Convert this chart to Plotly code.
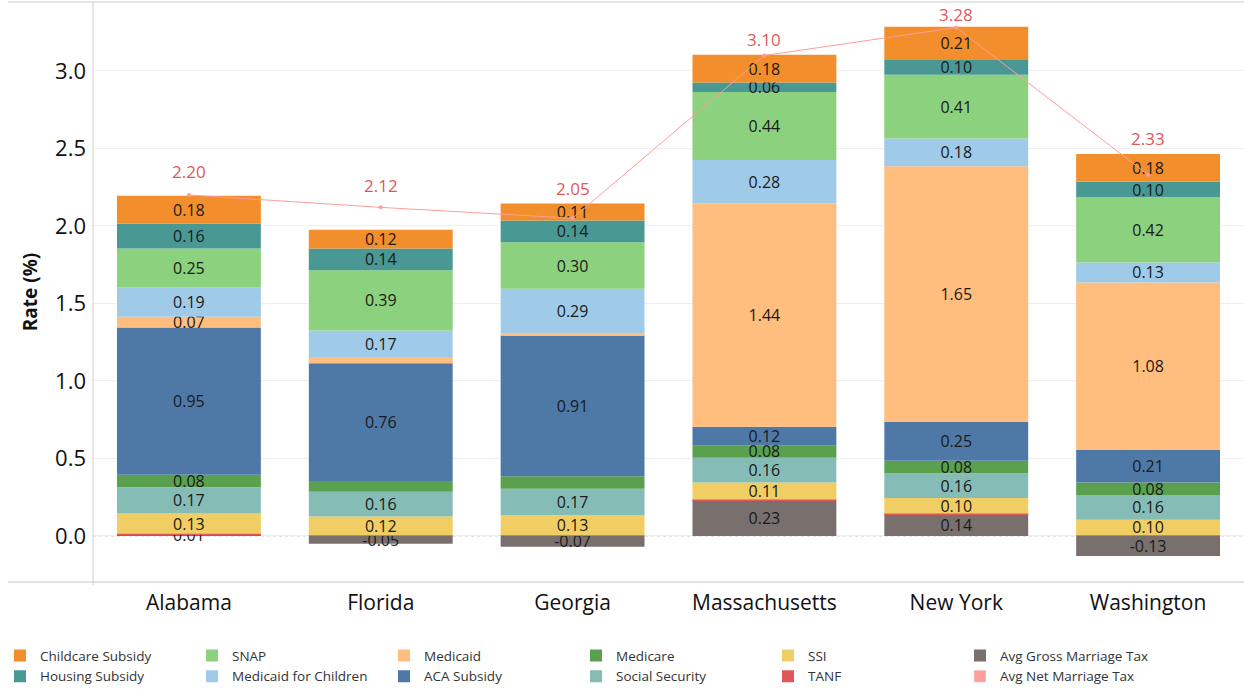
import plotly.graph_objects as go

states = ["Alabama", "Florida", "Georgia", "Massachusetts", "New York", "Washington"]

# benefit components (rate, %), listed bottom of the stack to top
gross_marriage_tax = [0.01, -0.05, -0.07, 0.23, 0.14, -0.13]
tanf = [0.005, 0.005, 0.005, 0.005, 0.005, 0.005]
ssi = [0.13, 0.12, 0.13, 0.11, 0.10, 0.10]
social_security = [0.17, 0.16, 0.17, 0.16, 0.16, 0.16]
medicare = [0.08, 0.07, 0.08, 0.08, 0.08, 0.08]
aca_subsidy = [0.95, 0.76, 0.91, 0.12, 0.25, 0.21]
medicaid = [0.07, 0.04, 0.01, 1.44, 1.65, 1.08]
medicaid_children = [0.19, 0.17, 0.29, 0.28, 0.18, 0.13]
snap = [0.25, 0.39, 0.30, 0.44, 0.41, 0.42]
housing_subsidy = [0.16, 0.14, 0.14, 0.06, 0.10, 0.10]
childcare_subsidy = [0.18, 0.12, 0.11, 0.18, 0.21, 0.18]
net_marriage_tax = [2.20, 2.12, 2.05, 3.10, 3.28, 2.33]

# segments too thin to carry a readable label
hidden_labels = {
    "TANF": [True] * 6,
    "Medicare": [False, True, True, False, False, False],
    "Medicaid": [False, True, True, False, False, False],
}

# vertical offset (px) of each net-tax label above its point
net_label_shift = [23, 22, 30, 16, 13, 36]

series = [
    ("Avg Gross Marriage Tax", gross_marriage_tax, "#79706E", 6),
    ("TANF", tanf, "#E15759", 11),
    ("SSI", ssi, "#F1CE63", 5),
    ("Social Security", social_security, "#86BCB6", 10),
    ("Medicare", medicare, "#59A14F", 4),
    ("ACA Subsidy", aca_subsidy, "#4E79A7", 9),
    ("Medicaid", medicaid, "#FFBE7D", 3),
    ("Medicaid for Children", medicaid_children, "#A0CBE8", 8),
    ("SNAP", snap, "#8CD17D", 2),
    ("Housing Subsidy", housing_subsidy, "#499894", 7),
    ("Childcare Subsidy", childcare_subsidy, "#F28E2B", 1),
]

FONT = "Open Sans"

fig = go.Figure()
for name, vals, color, rank in series:
    hide = hidden_labels.get(name, [False] * len(vals))
    labels = ["" if h else f"{v:.2f}" for v, h in zip(vals, hide)]
    fig.add_trace(go.Bar(
        name=name, x=states, y=vals, marker=dict(color=color, line=dict(width=0)),
        text=labels, textposition="inside", insidetextanchor="middle",
        constraintext="none", textangle=0,
        textfont=dict(family=FONT, size=16, color="#1a1a1a"),
        legendrank=rank,
    ))

# legend swatch for the net marriage tax line
fig.add_trace(go.Bar(name="Avg Net Marriage Tax", x=[states[0]], y=[None],
                     marker=dict(color="#FF9D9A"), legendrank=12))

fig.add_trace(go.Scatter(
    x=states, y=net_marriage_tax, mode="lines+markers",
    line=dict(color="#FF9D9A", width=1), marker=dict(size=4, color="#FF9D9A"),
    showlegend=False, hoverinfo="y",
))

for s, v, dy in zip(states, net_marriage_tax, net_label_shift):
    fig.add_annotation(x=s, y=v, text=f"{v:.2f}", showarrow=False, yshift=dy,
                       font=dict(family=FONT, size=17, color="#E15759"))

# frame lines: top border, category baseline, value axis line, dotted zero line
fig.add_shape(type="line", xref="paper", yref="paper", x0=-0.074, x1=1, y0=1, y1=1,
              line=dict(color="#e6e6e6", width=2))
fig.add_shape(type="line", xref="paper", yref="paper", x0=-0.074, x1=1, y0=0, y1=0,
              line=dict(color="#d9d9d9", width=1.5))
fig.add_shape(type="line", xref="paper", yref="paper", x0=0, x1=0, y0=-0.005, y1=1,
              line=dict(color="#d0d0d0", width=1))
fig.add_shape(type="line", xref="paper", yref="y", x0=0, x1=1, y0=0, y1=0,
              line=dict(color="#c8c8c8", width=1, dash="dot"), layer="below")

fig.update_layout(
    width=1244, height=690,
    margin=dict(l=93, r=0, t=2, b=108, autoexpand=False),
    barmode="relative", bargap=0.25,
    plot_bgcolor="white", paper_bgcolor="white",
    font=dict(family=FONT, color="#222"),
    xaxis=dict(showgrid=False, showline=False, ticks="", automargin=False,
               ticklabelstandoff=6,
               tickfont=dict(family=FONT, size=21, color="#111")),
    yaxis=dict(range=[-0.297, 3.445], tickvals=[0, 0.5, 1.0, 1.5, 2.0, 2.5, 3.0],
               ticktext=["0.0", "0.5", "1.0", "1.5", "2.0", "2.5", "3.0"],
               showgrid=True, gridcolor="#efefef", gridwidth=1,
               zeroline=False, showline=False, ticks="", ticklen=0,
               automargin=False, ticklabelstandoff=6,
               tickfont=dict(family=FONT, size=22, color="#111"),
               title=dict(text="<b>Rate (%)</b>", font=dict(family=FONT, size=19, color="#111"),
                          standoff=12)),
    legend=dict(orientation="h", xref="container", yref="container",
                x=0.0, xanchor="left", y=0.072, yanchor="top",
                traceorder="normal", entrywidth=147, entrywidthmode="pixels",
                font=dict(family=FONT, size=13.5, color="#333"), tracegroupgap=0,
                bgcolor="rgba(0,0,0,0)"),
    showlegend=True,
)

fig.write_html("out.html")
